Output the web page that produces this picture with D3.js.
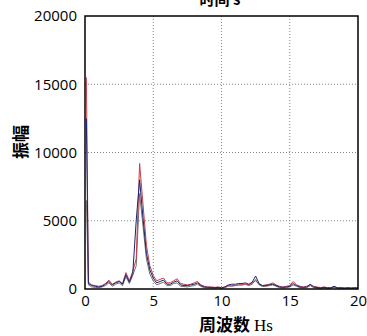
<!DOCTYPE html>
<html>
<head>
<meta charset="utf-8">
<script src="https://cdn.jsdelivr.net/npm/d3@7"></script>
<style>
  body { margin: 0; background: #fff; }
  svg { display: block; }
</style>
</head>
<body>
<div id="chart"></div>
<script>
// frequency axis, 0.25 Hz steps; first bin sits just off zero
var freq = [0.1].concat(d3.range(0.25, 20.001, 0.25));

var redAmp = [15500, 500, 300, 250, 200, 250, 400, 650, 350, 500,
  600, 400, 1200, 600, 1300, 2200, 9200, 6200, 3200, 1700,
  1000, 600, 700, 800, 450, 450, 600, 750, 400, 350,
  300, 350, 450, 550, 300, 200, 150, 150, 120, 150,
  100, 150, 250, 200, 250, 300, 300, 350, 300, 450,
  600, 350, 250, 300, 350, 450, 300, 200, 150, 200,
  250, 550, 300, 200, 150, 200, 300, 200, 150, 100,
  150, 100, 100, 150, 100, 100, 80, 100, 80, 100, 80];

var blueAmp = [12500, 400, 250, 200, 150, 200, 350, 550, 300, 450,
  550, 350, 1050, 500, 1150, 5000, 8000, 5200, 2600, 1400,
  800, 450, 550, 650, 350, 350, 500, 600, 300, 250,
  250, 300, 350, 450, 250, 150, 120, 120, 100, 120,
  80, 150, 300, 350, 350, 400, 400, 450, 350, 500,
  950, 400, 250, 250, 300, 350, 250, 150, 120, 150,
  200, 400, 250, 150, 120, 150, 350, 150, 100, 80,
  120, 80, 80, 200, 80, 80, 60, 80, 60, 80, 60];

var greyAmp = [6500, 300, 150, 120, 100, 150, 250, 450, 200, 350,
  450, 250, 900, 400, 1000, 1700, 7000, 4600, 2200, 1100,
  600, 300, 400, 500, 250, 250, 400, 450, 200, 180,
  150, 200, 250, 350, 180, 100, 80, 80, 60, 80,
  50, 100, 200, 250, 250, 300, 300, 350, 250, 350,
  700, 300, 180, 200, 250, 300, 200, 100, 80, 100,
  150, 300, 200, 100, 80, 100, 250, 100, 80, 50,
  80, 50, 50, 120, 50, 50, 40, 50, 40, 50, 40];

var xTicks = [0, 5, 10, 15, 20];
var yTicks = [0, 5000, 10000, 15000, 20000];

var width = 367, height = 336;
var margin = {top: 16, right: 9, bottom: 47, left: 85};
var w = width - margin.left - margin.right,
    h = height - margin.top - margin.bottom;

var svg = d3.select("#chart").append("svg")
  .attr("width", width)
  .attr("height", height);

var g = svg.append("g")
  .attr("transform", "translate(" + margin.left + "," + margin.top + ")");

var x = d3.scaleLinear().domain([0, 20]).range([0, w]);
var y = d3.scaleLinear().domain([0, 20000]).range([h, 0]);

// dotted grid
g.selectAll(".gx").data(xTicks.slice(1, -1)).enter().append("line")
  .attr("x1", d => x(d)).attr("x2", d => x(d))
  .attr("y1", 0).attr("y2", h)
  .attr("stroke", "#888").attr("stroke-width", 1)
  .attr("stroke-dasharray", "1,2");
g.selectAll(".gy").data(yTicks.slice(1, -1)).enter().append("line")
  .attr("x1", 0).attr("x2", w)
  .attr("y1", d => y(d)).attr("y2", d => y(d))
  .attr("stroke", "#888").attr("stroke-width", 1)
  .attr("stroke-dasharray", "1,2");

var line = d3.line()
  .x((d, i) => x(freq[i]))
  .y(d => y(d));

var series = [
  {vals: greyAmp, color: "#707070"},
  {vals: redAmp, color: "#c0404a"},
  {vals: blueAmp, color: "#202070"}
];

g.selectAll(".series").data(series).enter().append("path")
  .attr("fill", "none")
  .attr("stroke", d => d.color)
  .attr("stroke-width", 1)
  .attr("d", d => line(d.vals));

// axes (labels only)
var xAxis = g.append("g")
  .attr("transform", "translate(0," + h + ")")
  .call(d3.axisBottom(x).tickValues(xTicks).tickSize(0).tickPadding(6).tickFormat(d3.format("d")));
var yAxis = g.append("g")
  .call(d3.axisLeft(y).tickValues(yTicks).tickSize(0).tickPadding(8).tickFormat(d3.format("d")));
[xAxis, yAxis].forEach(function(a) {
  a.select(".domain").remove();
  a.selectAll("text")
    .attr("fill", "#000")
    .style("font-family", "'Open Sans', 'Liberation Sans', sans-serif")
    .style("font-size", "15px");
});

// frame
g.append("rect")
  .attr("width", w).attr("height", h)
  .attr("fill", "none")
  .attr("stroke", "#000")
  .attr("stroke-width", 1.5);

// titles (the top one is clipped by the edge, as in the source image)
svg.append("text")
  .attr("x", 220).attr("y", 5)
  .attr("text-anchor", "middle")
  .style("font-family", "'Noto Sans CJK SC', sans-serif")
  .style("font-weight", "bold")
  .style("font-size", "15px")
  .text("时间 s");

var xl = svg.append("text")
  .attr("x", 236).attr("y", 331)
  .attr("text-anchor", "middle")
  .style("font-size", "17px");
xl.append("tspan")
  .style("font-family", "'Noto Sans CJK SC', sans-serif")
  .style("font-weight", "bold")
  .text("周波数 ");
xl.append("tspan")
  .style("font-family", "'Liberation Serif', serif")
  .text("Hs");

svg.append("text")
  .attr("transform", "translate(27,142) rotate(-90)")
  .attr("text-anchor", "middle")
  .style("font-family", "'Noto Sans CJK SC', sans-serif")
  .style("font-weight", "bold")
  .style("font-size", "17px")
  .text("振幅");
</script>
</body>
</html>
